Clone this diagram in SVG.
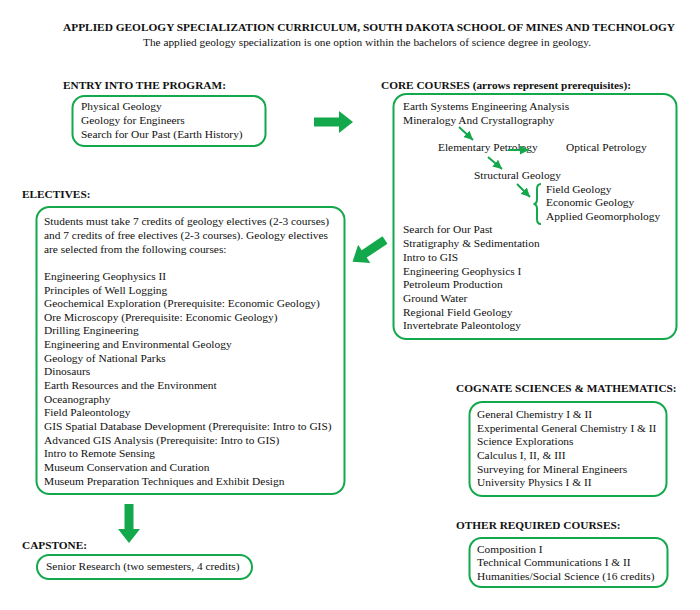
<svg xmlns="http://www.w3.org/2000/svg" width="700" height="610" viewBox="0 0 700 610">
<style>
text{font-family:"Liberation Serif","Times New Roman",serif;font-size:11.4px;fill:#111}
.h{font-weight:bold;font-size:11.3px}
.box{fill:#fff;stroke:#13a84b;stroke-width:2}
.thin{stroke:#13a84b;stroke-width:2;fill:none}
.big{fill:#13a84b}
</style>
<defs>
<path id="bigArrow" d="M0,-4.5 L25,-4.5 L25,-11 L39,0 L25,11 L25,4.5 L0,4.5 Z"/>
<marker id="tri" markerUnits="userSpaceOnUse" markerWidth="9" markerHeight="9" viewBox="0 0 10 10" refX="10" refY="5" orient="auto">
<path d="M0,0 L10,5 L0,10 Z" fill="#13a84b"/>
</marker>
</defs>
<rect width="700" height="610" fill="#fff"/>
<g id="title">
<text class="h" x="63" y="31" textLength="612" lengthAdjust="spacingAndGlyphs">APPLIED GEOLOGY SPECIALIZATION CURRICULUM, SOUTH DAKOTA SCHOOL OF MINES AND TECHNOLOGY</text>
<text x="143" y="46" textLength="448" lengthAdjust="spacingAndGlyphs">The applied geology specialization is one option within the bachelors of science degree in geology.</text>
</g>
<g id="entry">
<text class="h" x="63" y="89">ENTRY INTO THE PROGRAM:</text>
<rect class="box" x="72.5" y="96" width="193" height="50" rx="12"/>
<text x="81" y="110">Physical Geology</text>
<text x="81" y="124">Geology for Engineers</text>
<text x="81" y="138">Search for Our Past (Earth History)</text>
</g>
<g id="core">
<text class="h" x="381" y="89">CORE COURSES (arrows represent prerequisites):</text>
<rect class="box" x="393.5" y="94" width="283" height="245" rx="13"/>
<text x="403" y="110">Earth Systems Engineering Analysis</text>
<text x="403" y="124">Mineralogy And Crystallography</text>
<text x="438" y="151">Elementary Petrology</text>
<text x="566" y="151">Optical Petrology</text>
<text x="474" y="178.5">Structural Geology</text>
<text x="546" y="192.5">Field Geology</text>
<text x="546" y="206">Economic Geology</text>
<text x="546" y="219.5">Applied Geomorphology</text>
<text x="403" y="233">Search for Our Past</text>
<text x="403" y="247">Stratigraphy &amp; Sedimentation</text>
<text x="403" y="260.5">Intro to GIS</text>
<text x="403" y="274.5">Engineering Geophysics I</text>
<text x="403" y="288">Petroleum Production</text>
<text x="403" y="302">Ground Water</text>
<text x="403" y="315.5">Regional Field Geology</text>
<text x="403" y="329">Invertebrate Paleontology</text>
<path class="thin" stroke-width="1.5" d="M541,184 Q537,184 537,189 L537,199 Q537,204 533.5,204 Q537,204 537,209 L537,219 Q537,224 541,224"/>
</g>
<g id="electives">
<text class="h" x="22" y="198">ELECTIVES:</text>
<rect class="box" x="36.5" y="207" width="308" height="287" rx="13"/>
<text x="44" y="225">Students must take 7 credits of geology electives (2-3 courses)</text>
<text x="44" y="238.5">and 7 credits of free electives (2-3 courses). Geology electives</text>
<text x="44" y="252.5">are selected from the following courses:</text>
<text x="44" y="279.5">Engineering Geophysics II</text>
<text x="44" y="293.5">Principles of Well Logging</text>
<text x="44" y="307">Geochemical Exploration (Prerequisite: Economic Geology)</text>
<text x="44" y="320.5">Ore Microscopy (Prerequisite: Economic Geology)</text>
<text x="44" y="334">Drilling Engineering</text>
<text x="44" y="348">Engineering and Environmental Geology</text>
<text x="44" y="361.5">Geology of National Parks</text>
<text x="44" y="375">Dinosaurs</text>
<text x="44" y="389">Earth Resources and the Environment</text>
<text x="44" y="402.5">Oceanography</text>
<text x="44" y="416">Field Paleontology</text>
<text x="44" y="430">GIS Spatial Database Development (Prerequisite: Intro to GIS)</text>
<text x="44" y="443.5">Advanced GIS Analysis (Prerequisite: Intro to GIS)</text>
<text x="44" y="457">Intro to Remote Sensing</text>
<text x="44" y="471">Museum Conservation and Curation</text>
<text x="44" y="484.5">Museum Preparation Techniques and Exhibit Design</text>
</g>
<g id="capstone">
<text class="h" x="22" y="548.5">CAPSTONE:</text>
<rect class="box" x="37" y="555" width="215" height="24" rx="12"/>
<text x="46" y="569.5">Senior Research (two semesters, 4 credits)</text>
</g>
<g id="cognate">
<text class="h" x="456" y="392">COGNATE SCIENCES &amp; MATHEMATICS:</text>
<rect class="box" x="469.5" y="402" width="197" height="94" rx="13"/>
<text x="477" y="417.5">General Chemistry I &amp; II</text>
<text x="477" y="431.5">Experimental General Chemistry I &amp; II</text>
<text x="477" y="445">Science Explorations</text>
<text x="477" y="459">Calculus I, II, &amp; III</text>
<text x="477" y="472.5">Surveying for Mineral Engineers</text>
<text x="477" y="486">University Physics I &amp; II</text>
</g>
<g id="other">
<text class="h" x="456" y="529">OTHER REQUIRED COURSES:</text>
<rect class="box" x="469.5" y="538" width="198" height="49" rx="12"/>
<text x="477" y="552.5">Composition I</text>
<text x="477" y="566">Technical Communications I &amp; II</text>
<text x="477" y="579.5">Humanities/Social Science (16 credits)</text>
</g>
<g id="connectors">
<use href="#bigArrow" class="big" transform="translate(314,122)"/>
<use href="#bigArrow" class="big" transform="translate(385,240) rotate(146.3)"/>
<use href="#bigArrow" class="big" transform="translate(129,504) rotate(90)"/>
<line class="thin" x1="459" y1="127" x2="473" y2="140" marker-end="url(#tri)"/>
<line class="thin" x1="508" y1="150" x2="529" y2="150" marker-end="url(#tri)"/>
<line class="thin" x1="488" y1="157" x2="502" y2="169" marker-end="url(#tri)"/>
<line class="thin" x1="517" y1="184" x2="530" y2="197" marker-end="url(#tri)"/>
</g>
</svg>
